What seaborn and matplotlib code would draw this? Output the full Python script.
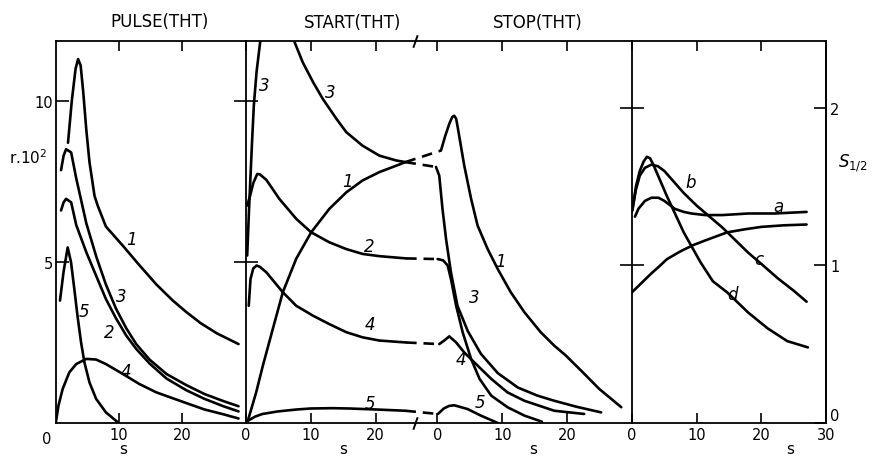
import numpy as np
import pandas as pd
import matplotlib
matplotlib.use('Agg')
import matplotlib.pyplot as plt
import seaborn as sns

# ─── PULSE(THT) panel: r.10^2 vs s ───────────────────────────────────────
pulse1_x = [1.9, 2.5, 3.1, 3.5, 3.9, 4.3, 4.8, 5.3, 6.1, 6.6, 7.9, 10.6, 13.2, 15.9, 18.5, 20.6, 22.9, 25.5, 28.9]
pulse1_y = [8.7, 10.0, 11.0, 11.3, 11.1, 10.3, 9.1, 8.1, 7.05, 6.75, 6.1, 5.5, 4.9, 4.3, 3.8, 3.45, 3.1, 2.78, 2.45]
pulse23_x = [0.8, 1.2, 1.6, 2.4, 3.2, 4.8, 6.4, 7.9, 9.5, 11.1, 12.7, 14.8, 17.5, 20.6, 23.5, 26.5, 28.9]
pulse2_y = [6.6, 6.85, 6.96, 6.85, 6.15, 5.3, 4.55, 3.85, 3.25, 2.72, 2.3, 1.85, 1.38, 1.02, 0.75, 0.52, 0.36]
pulse3_y = [7.85, 8.3, 8.5, 8.4, 7.6, 6.2, 5.15, 4.3, 3.55, 2.95, 2.45, 1.97, 1.52, 1.18, 0.9, 0.68, 0.52]
pulse4_x = [0.0, 0.4, 1.06, 2.1, 3.2, 4.8, 6.35, 7.9, 10.6, 13.2, 15.9, 20.6, 23.5, 26.5, 28.9]
pulse4_y = [0.05, 0.55, 1.06, 1.57, 1.83, 1.99, 1.97, 1.83, 1.52, 1.21, 0.95, 0.62, 0.42, 0.27, 0.14]
pulse5_x = [0.63, 1.2, 1.85, 2.38, 2.9, 3.4, 3.97, 4.5, 5.3, 6.35, 7.9, 9.8]
pulse5_y = [3.8, 4.7, 5.45, 4.99, 4.16, 3.33, 2.5, 1.88, 1.26, 0.75, 0.33, 0.02]

# ─── START(THT) part of the middle panel ─────────────────────────────────
start3a_x = [0.26, 0.6, 1.0, 1.28, 1.7, 2.3, 2.5]
start3a_y = [5.2, 6.9, 8.7, 9.85, 10.9, 11.9, 12.2]
start3b_x = [7.3, 8.8, 10.4, 11.9, 14.0, 15.5, 18.0, 20.6, 23.2, 24.6]
start3b_y = [11.95, 11.2, 10.58, 10.06, 9.44, 9.03, 8.61, 8.3, 8.15, 8.1]
start1_x = [0.36, 1.64, 2.67, 4.2, 5.74, 7.8, 10.1, 12.9, 15.5, 18.0, 20.6, 23.2, 24.6]
start1_y = [0.07, 0.95, 1.78, 2.92, 4.06, 5.1, 5.92, 6.65, 7.16, 7.53, 7.79, 7.99, 8.1]
start2_x = [0.26, 0.7, 1.2, 1.8, 2.2, 3.2, 5.2, 7.8, 10.1, 12.9, 15.5, 18.0, 20.6, 24.7]
start2_y = [6.75, 7.05, 7.45, 7.73, 7.72, 7.55, 6.96, 6.34, 5.92, 5.61, 5.4, 5.25, 5.18, 5.11]
start4_x = [0.5, 0.77, 1.2, 1.7, 2.2, 3.2, 5.74, 7.8, 10.4, 12.9, 15.5, 18.0, 20.6, 24.7]
start4_y = [3.64, 4.47, 4.8, 4.89, 4.85, 4.68, 4.06, 3.64, 3.33, 3.07, 2.82, 2.66, 2.56, 2.5]
start5_x = [0.36, 1.5, 2.6, 5.0, 7.9, 10.0, 13.3, 16.0, 20.0, 24.6]
start5_y = [0.07, 0.2, 0.28, 0.36, 0.42, 0.45, 0.46, 0.45, 0.42, 0.38]

# ─── STOP(THT) part (own s origin) ───────────────────────────────────────
stop1_x = [0.57, 1.2, 1.85, 2.3, 2.6, 2.9, 3.1, 4.15, 5.2, 6.2, 7.75, 9.3, 11.3, 13.4, 15.9, 18.0, 19.8, 22.5, 24.9, 28.3]
stop1_y = [8.46, 8.9, 9.29, 9.5, 9.54, 9.45, 9.23, 7.99, 6.96, 6.13, 5.4, 4.78, 4.06, 3.44, 2.82, 2.4, 2.09, 1.55, 1.06, 0.49]
stop3_x = [-0.2, 0.3, 0.8, 1.35, 2.1, 3.1, 4.7, 6.7, 9.3, 12.4, 15.4, 18.0, 21.5, 25.2]
stop3_y = [7.95, 7.68, 6.65, 5.71, 4.68, 3.64, 2.85, 2.15, 1.55, 1.1, 0.85, 0.69, 0.5, 0.33]
stop2_x = [0.05, 0.9, 1.6, 2.1, 2.9, 3.9, 5.2, 6.5, 8.3, 10.8, 13.4, 16.1]
stop2_y = [5.09, 5.05, 4.89, 4.47, 3.64, 2.82, 1.99, 1.37, 0.85, 0.49, 0.23, 0.04]
stop4_x = [0.3, 1.0, 1.85, 2.9, 4.15, 5.7, 8.3, 10.8, 13.4, 18.0, 22.6]
stop4_y = [2.45, 2.55, 2.69, 2.5, 2.19, 1.88, 1.37, 0.95, 0.69, 0.38, 0.28]
stop5_x = [0.1, 1.0, 1.8, 2.6, 3.5, 4.7, 6.7, 9.3]
stop5_y = [0.28, 0.45, 0.53, 0.55, 0.5, 0.43, 0.23, 0.0]

# dashed bridges across the break: (start s, stop s) and (start r, stop r)
bridge_curves = ['1', '3', '2', '4', '5']
bridge_start_s = [24.6, 24.6, 24.7, 24.7, 24.6]
bridge_stop_s = [0.57, -0.2, 0.05, 0.3, 0.1]
bridge_start_r = [8.1, 8.1, 5.11, 2.5, 0.38]
bridge_stop_r = [8.46, 7.95, 5.09, 2.45, 0.28]

# ─── right panel: S_1/2 vs s ─────────────────────────────────────────────
sa_x = [0.46, 1.0, 2.0, 3.0, 4.1, 5.0, 6.6, 8.0, 9.2, 11.3, 14.0, 18.0, 22.0, 27.0]
sa_y = [1.31, 1.36, 1.41, 1.43, 1.43, 1.41, 1.36, 1.34, 1.33, 1.32, 1.32, 1.33, 1.33, 1.34]
sb_x = [0.05, 0.6, 1.2, 2.0, 3.0, 4.0, 5.0, 6.5, 8.0, 10.0, 12.0, 14.0, 16.0, 18.0, 20.0, 22.5, 25.0, 27.0]
sb_y = [1.35, 1.48, 1.57, 1.62, 1.64, 1.63, 1.6, 1.53, 1.46, 1.38, 1.31, 1.24, 1.16, 1.08, 1.01, 0.92, 0.84, 0.77]
sc_x = [0.0, 1.0, 2.0, 3.0, 4.1, 5.4, 7.5, 9.5, 11.4, 14.7, 17.5, 20.0, 23.5, 27.0]
sc_y = [0.83, 0.87, 0.91, 0.95, 0.99, 1.04, 1.09, 1.13, 1.16, 1.21, 1.23, 1.245, 1.255, 1.26]
sd_x = [0.05, 0.6, 1.2, 1.8, 2.3, 2.8, 3.3, 5.4, 8.0, 10.6, 12.5, 14.7, 18.0, 21.0, 24.0, 27.2]
sd_y = [1.35, 1.5, 1.6, 1.66, 1.69, 1.68, 1.64, 1.44, 1.21, 1.02, 0.9, 0.83, 0.7, 0.6, 0.52, 0.48]

STOP_OFFSET = 29.5   # where s=0 of STOP sits on the shared middle axis
BREAK_AT = 26.0

W, H = 872, 460
LW = 1.9
TICK_FS = 10.5

sns.set_style('ticks')
plt.rcParams['font.family'] = ['DejaVu Sans']
plt.rcParams.update({
    'axes.linewidth': 1.3,
    'axes.edgecolor': 'black',
    'text.color': 'black',
    'axes.labelcolor': 'black',
    'xtick.color': 'black',
    'ytick.color': 'black',
    'xtick.labelcolor': 'black',
    'ytick.labelcolor': 'black',
})


def curve(ax, x, y, dashed=False):
    sns.lineplot(x=np.asarray(x, float), y=np.asarray(y, float), ax=ax,
                 color='black', linewidth=LW, sort=False, estimator=None,
                 linestyle=(0, (4, 2.6)) if dashed else '-',
                 solid_capstyle='round', dash_capstyle='butt')


def label(ax, x, y, txt):
    ax.text(x, y, txt, fontsize=12, fontstyle='italic', ha='center', va='center')


fig = plt.figure(figsize=(W / 100, H / 100), dpi=100)
ax_p = fig.add_axes([56 / W, 36 / H, 189.5 / W, 382 / H])
ax_s = fig.add_axes([245.5 / W, 36 / H, 386.5 / W, 382 / H])
ax_r = fig.add_axes([632 / W, 36 / H, 194 / W, 382 / H])

# ─── PULSE ───────────────────────────────────────────────────────────────
curve(ax_p, pulse1_x, pulse1_y)
curve(ax_p, pulse23_x, pulse2_y)
curve(ax_p, pulse23_x, pulse3_y)
curve(ax_p, pulse4_x, pulse4_y)
curve(ax_p, pulse5_x, pulse5_y)
ax_p.set_xlim(0, 30)
ax_p.set_ylim(0, 11.86)
ax_p.spines['right'].set_visible(False)
ax_p.set_xticks([10, 20], ['10', '20'])
ax_p.set_yticks([5, 10], ['5', '10'])
ax_p.tick_params(axis='x', direction='in', top=True, length=7, width=1.2,
                 pad=3, labelsize=TICK_FS)
ax_p.tick_params(axis='y', direction='in', length=9, width=1.2,
                 pad=2, labelsize=TICK_FS)
ax_p.text(-0.047, -0.04, '0', transform=ax_p.transAxes, fontsize=TICK_FS,
          ha='center', va='center')
for (lx, ly, t) in [(11.9, 5.7, '1'), (10.3, 3.95, '3'), (8.5, 2.82, '2'),
                    (4.5, 3.49, '5'), (11.1, 1.62, '4')]:
    label(ax_p, lx, ly, t)

# ─── START / STOP ────────────────────────────────────────────────────────
curve(ax_s, start3a_x, start3a_y)
curve(ax_s, start3b_x, start3b_y)
curve(ax_s, start1_x, start1_y)
curve(ax_s, start2_x, start2_y)
curve(ax_s, start4_x, start4_y)
curve(ax_s, start5_x, start5_y)
for sx, sy in [(stop1_x, stop1_y), (stop3_x, stop3_y), (stop2_x, stop2_y),
               (stop4_x, stop4_y), (stop5_x, stop5_y)]:
    curve(ax_s, np.asarray(sx) + STOP_OFFSET, sy)
for i in range(len(bridge_curves)):
    curve(ax_s, [bridge_start_s[i], bridge_stop_s[i] + STOP_OFFSET],
          [bridge_start_r[i], bridge_stop_r[i]], dashed=True)

ax_s.set_xlim(0, 59.45)
ax_s.set_ylim(0, 11.86)
ax_s.spines['right'].set_visible(False)
ax_s.set_xticks([0, 10, 20, STOP_OFFSET, STOP_OFFSET + 10, STOP_OFFSET + 20],
                ['0', '10', '20', '0', '10', '20'])
ax_s.set_yticks([5, 10], ['', ''])
ax_s.tick_params(axis='x', direction='in', top=True, length=7, width=1.2,
                 pad=3, labelsize=TICK_FS)
ax_s.tick_params(axis='y', direction='inout', length=17, width=1.2)
for yb in (0, 11.86):
    ax_s.plot([BREAK_AT], [yb], marker=[(-0.35, -1), (0.35, 1)],
              markersize=9, color='black', mew=1.4, clip_on=False)
for (lx, ly, t) in [(2.9, 10.5, '3'), (13.0, 10.28, '3'), (15.7, 7.5, '1'),
                    (19.1, 5.5, '2'), (19.1, 3.07, '4'), (19.1, 0.62, '5'),
                    (39.3, 5.04, '1'), (35.2, 3.9, '3'), (33.1, 2.0, '4'),
                    (36.1, 0.64, '5')]:
    label(ax_s, lx, ly, t)

# ─── S_1/2 panel ─────────────────────────────────────────────────────────
curve(ax_r, sa_x, sa_y)
curve(ax_r, sb_x, sb_y)
curve(ax_r, sc_x, sc_y)
curve(ax_r, sd_x, sd_y)
ax_r.set_xlim(0, 30)
ax_r.set_ylim(0, 2.425)
ax_r.set_xticks([0, 10, 20, 30], ['0', '10', '20', '30'])
ax_r.set_yticks([1, 2], ['', ''])
ax_r.tick_params(axis='x', direction='in', top=True, length=7, width=1.2,
                 pad=3, labelsize=TICK_FS)
ax_r.tick_params(axis='y', direction='inout', length=17, width=1.2)
sec = ax_r.secondary_yaxis('right')
sec.set_yticks([0, 1, 2], ['0', '1', '2'])
sec.tick_params(direction='in', length=9, width=1.2, pad=3, labelsize=TICK_FS)
sec.get_yticklabels()[0].set_va('bottom')
for (lx, ly, t) in [(22.6, 1.38, 'a'), (9.0, 1.53, 'b'), (19.6, 1.04, 'c'),
                    (15.6, 0.82, 'd')]:
    label(ax_r, lx, ly, t)

for ax in (ax_p, ax_s, ax_r):
    ax.set_xlabel('')
    ax.set_ylabel('')

# ─── titles and axis names ───────────────────────────────────────────────
for (px, py, t) in [(160, 22, 'PULSE(THT)'), (353, 23, 'START(THT)'),
                    (538, 23, 'STOP(THT)')]:
    fig.text(px / W, 1 - py / H, t, fontsize=12, ha='center', va='center')
fig.text(28 / W, 1 - 158 / H, 'r.10$^2$', fontsize=11, ha='center', va='center')
fig.text(853 / W, 1 - 163 / H, '$S_{1/2}$', fontsize=12, ha='center', va='center')
for (px, py) in [(123, 450), (343, 450), (533, 450), (790, 450)]:
    fig.text(px / W, 1 - py / H, 's', fontsize=11, ha='center', va='center')

fig.savefig('out.png', dpi=100)
